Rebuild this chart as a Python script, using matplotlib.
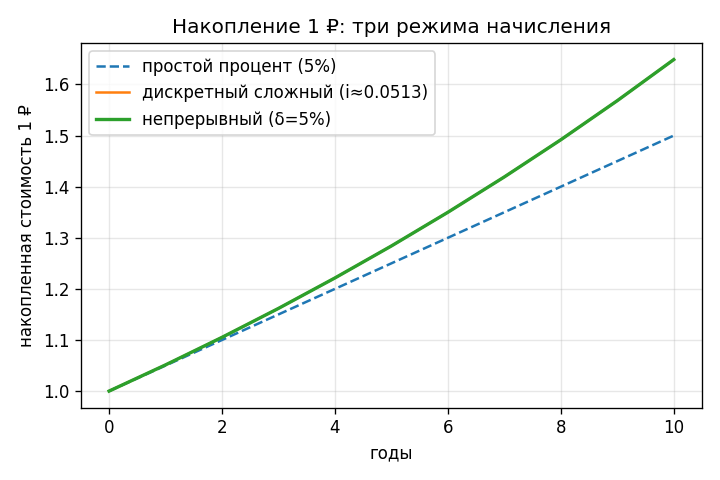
import matplotlib

matplotlib.use("Agg")
import matplotlib.pyplot as plt

years = [0, 1, 2, 3, 4, 5, 6, 7, 8, 9, 10]
simple = [1.00, 1.05, 1.10, 1.15, 1.20, 1.25, 1.30, 1.35, 1.40, 1.45, 1.50]
discrete = [1.0000, 1.0513, 1.1052, 1.1618, 1.2214, 1.2840, 1.3499, 1.4191, 1.4918, 1.5683, 1.6487]
continuous = [1.0000, 1.0513, 1.1052, 1.1618, 1.2214, 1.2840, 1.3499, 1.4191, 1.4918, 1.5683, 1.6487]

fig, ax = plt.subplots(figsize=(6, 4), dpi=120)
ax.plot(years, simple, "--", color="#1f77b4", linewidth=1.5, label="простой процент (5%)")
ax.plot(years, discrete, color="#ff7f0e", linewidth=1.5, label="дискретный сложный (i≈0.0513)")
ax.plot(years, continuous, color="#2ca02c", linewidth=2.0, label="непрерывный (δ=5%)")
ax.set_title("Накопление 1 ₽: три режима начисления")
ax.set_xlabel("годы")
ax.set_ylabel("накопленная стоимость 1 ₽")
ax.grid(alpha=0.3)
ax.legend(loc="upper left")
fig.tight_layout()
fig.savefig("out.png", dpi=120)
